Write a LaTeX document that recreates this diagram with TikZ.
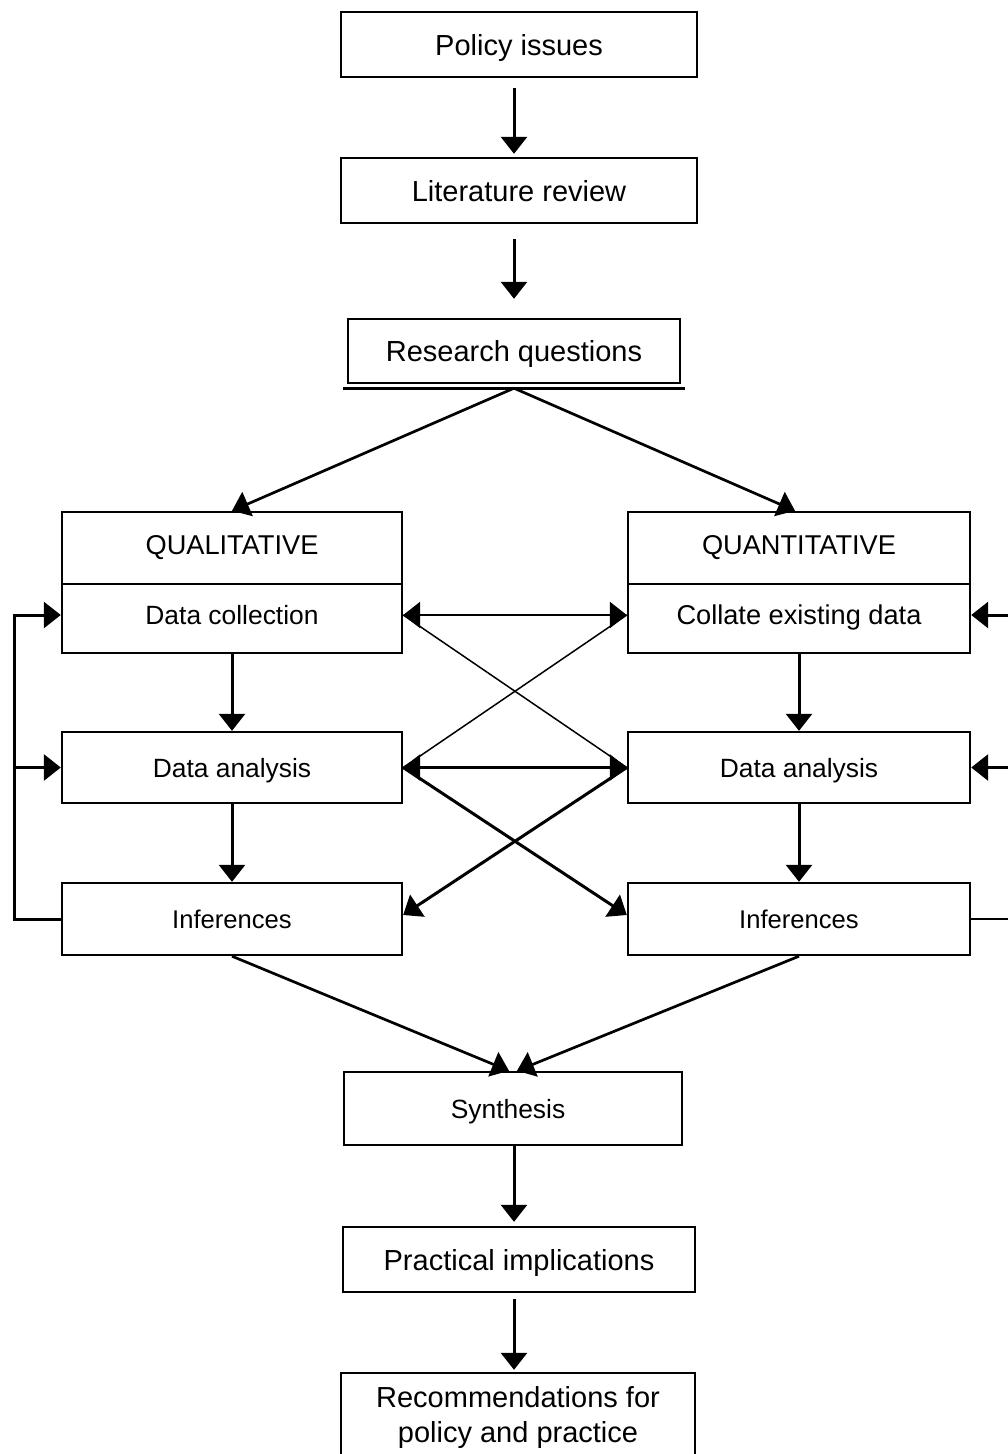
\documentclass[tikz,border=0pt]{standalone}
\usepackage{fontspec}
\setmainfont{Liberation Sans}
\usetikzlibrary{arrows.meta}
\begin{document}
\begin{tikzpicture}[x=1pt,y=-1pt,
  box/.style={draw, line width=2.4pt, rectangle, inner sep=0pt, align=center},
  big/.style={font=\fontsize{29}{35}\selectfont, text height=21pt, text depth=0pt},
  midA/.style={font=\fontsize{27.2}{32}\selectfont, text height=19pt, text depth=7pt},
  midB/.style={font=\fontsize{26.4}{32}\selectfont, text height=19pt, text depth=0pt},
  midBr/.style={font=\fontsize{26.4}{32}\selectfont, text height=19pt, text depth=7pt},
  midC/.style={font=\fontsize{25.6}{32}\selectfont, text height=19pt, text depth=0pt},
  arr/.style={line width=3pt, -{Triangle[length=17pt,width=26pt]}},
  arrboth/.style={line width=2.7pt, {Triangle[length=17pt,width=26pt]}-{Triangle[length=17pt,width=26pt]}},
  thinln/.style={line width=1.5pt},
  plain/.style={line width=2.7pt}
]
\useasboundingbox (0,0) rectangle (1008,1454);

% top column
\node[box, big, minimum width=356pt, minimum height=65pt] (pol) at (519,44.5) {Policy issues};
\node[box, big, minimum width=356pt, minimum height=65pt] (lit) at (519,190.5) {Literature review};
\node[box, big, minimum width=332pt, minimum height=64pt] (rq) at (514,351) {Research questions};
\draw[line width=3pt] ([xshift=-4pt,yshift=-4.5pt]rq.south west) -- ([xshift=4pt,yshift=-4.5pt]rq.south east);

% middle boxes
\node[box, midA, minimum width=340pt, minimum height=72pt] (qualh) at (232,548) {QUALITATIVE};
\node[box, midBr, minimum width=340pt, minimum height=69pt] (qualdc) at (232,618.5) {Data collection};
\node[box, midA, minimum width=342pt, minimum height=72pt] (quanh) at (799,548) {QUANTITATIVE};
\node[box, midA, minimum width=342pt, minimum height=69pt] (quandc) at (799,618.5) {Collate existing data};
\node[box, midB, minimum width=340pt, minimum height=71pt] (dal) at (232,767.5) {Data analysis};
\node[box, midB, minimum width=342pt, minimum height=71pt] (dar) at (799,767.5) {Data analysis};
\node[box, midC, minimum width=340pt, minimum height=72pt] (infl) at (232,919) {Inferences};
\node[box, midC, minimum width=342pt, minimum height=72pt] (infr) at (799,919) {Inferences};

% bottom column
\node[box, midB, minimum width=338pt, minimum height=73pt] (syn) at (513,1108.5) {\hspace*{-10pt}Synthesis};
\node[box, big, minimum width=352pt, minimum height=65pt] (prac) at (519,1259.5) {Practical implications};
\node[inner sep=0pt, minimum width=354pt, minimum height=81pt] (rec) at (518,1413.5) {};
\draw[line width=2.4pt] (rec.south west) -- (rec.north west) -- (rec.north east) -- (rec.south east);
\node[font=\fontsize{29}{35}\selectfont, align=center, inner sep=0pt] (rectext) at ([yshift=-4pt]rec.center) {Recommendations for\\policy and practice};

% helper coordinates
\coordinate (axis) at (514,0);
\coordinate (fbl) at (14,919);
\coordinate (rx) at (1008,0);
\coordinate (qde) at ([yshift=3.5pt]qualdc.east);
\coordinate (qdw) at ([yshift=3.5pt]quandc.west);
\coordinate (qdl) at ([yshift=3.5pt]qualdc.west);
\coordinate (qdr) at ([yshift=3.5pt]quandc.east);
\coordinate (rqa) at ([yshift=-4pt]rq.south);

% vertical main arrows
\draw[arr, shorten <=10pt, shorten >=3pt] (pol.south -| axis) -- (lit.north -| axis);
\draw[arr, shorten <=15pt, shorten >=19pt] (lit.south -| axis) -- (rq.north -| axis);
\draw[arr, shorten >=4pt] (syn.south -| axis) -- (prac.north -| axis);
\draw[arr, shorten <=6pt, shorten >=3pt] (prac.south -| axis) -- (rec.north -| axis);

% research questions to branches
\draw[arr, line width=2.7pt] (rqa) -- (qualh.north);
\draw[arr, line width=2.7pt] (rqa) -- ([xshift=-4pt]quanh.north);

% within columns
\draw[arr] (qualdc.south) -- (dal.north);
\draw[arr] (dal.south) -- (infl.north);
\draw[arr] (quandc.south) -- (dar.north);
\draw[arr] (dar.south) -- (infr.north);

% cross links
\draw[arrboth] (qde) -- (qdw);
\draw[arrboth] (dal.east) -- (dar.west);
\draw[thinln] (qde) -- (dar.west);
\draw[thinln] (qdw) -- (dal.east);
\draw[arr] (dal.east) -- ([yshift=4pt]infr.west);
\draw[arr] (dar.west) -- ([yshift=4pt]infl.east);

% left feedback
\draw[arr] (infl.west) -- (fbl) |- (qdl);
\draw[arr] (fbl |- dal.west) -- (dal.west);

% right feedback (loop off the page edge)
\draw[arr] (rx |- qdr) -- (qdr);
\draw[arr] (rx |- dar.east) -- (dar.east);
\draw[plain] (infr.east) -- (rx |- infr.east);

% to synthesis
\draw[arr, line width=2.7pt] (infl.south) -- ([xshift=-4pt]syn.north);
\draw[arr, line width=2.7pt] (infr.south) -- ([xshift=4pt]syn.north);
\end{tikzpicture}
\end{document}
